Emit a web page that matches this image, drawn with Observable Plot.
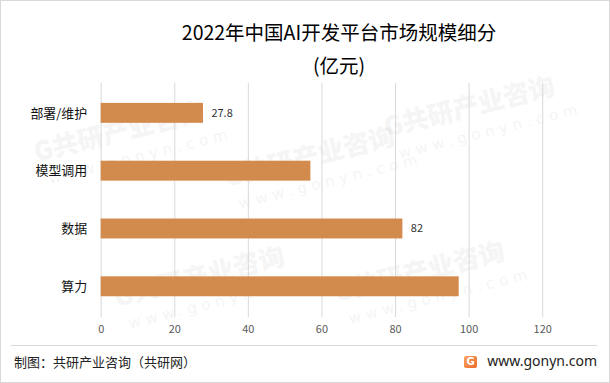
<!DOCTYPE html>
<html>
<head>
<meta charset="utf-8">
<script src="https://cdn.jsdelivr.net/npm/d3@7"></script>
<script src="https://cdn.jsdelivr.net/npm/@observablehq/plot@0.6"></script>
<style>
  html, body { margin: 0; padding: 0; background: #fff; }
  body { font-family: "Noto Sans CJK SC", "Noto Sans", sans-serif; }
  #frame { position: relative; width: 608px; height: 381px; border: 1px solid #d9d9d9; overflow: hidden; background: #fff; }
  .wm { position: absolute; color: #000; opacity: 0.035; font-weight: 900; font-size: 26px; transform: rotate(-14deg); white-space: nowrap; pointer-events: none; }
  .wm2 { position: absolute; color: #000; opacity: 0.04; font-size: 15px; letter-spacing: 5px; transform: rotate(-14deg); white-space: nowrap; pointer-events: none; font-family: "DejaVu Sans", sans-serif; }
  #title { position: absolute; left: 0; width: 676px; top: 18px; text-align: center; font-size: 19.5px; color: #000; line-height: 26px; }
  #unit { position: absolute; left: 0; width: 676px; top: 51px; text-align: center; font-size: 19.5px; color: #000; line-height: 26px; }
  #chart { position: absolute; left: 0; top: 70px; }
  #rule { position: absolute; left: 10px; width: 586px; top: 344px; height: 1px; background: #d9d9d9; }
  #source { position: absolute; left: 13px; top: 352px; font-size: 13px; color: #222; line-height: 18px; }
  #site { position: absolute; right: 12px; top: 351px; font-size: 14px; color: #222; line-height: 18px; font-family: "Noto Sans", "DejaVu Sans", sans-serif; }
  #logo { position: absolute; left: 463px; top: 355px; width: 13px; height: 12px; border-radius: 2px; background: linear-gradient(135deg, #f7a35c, #ee6a2f); color: #fff; font-size: 10px; font-weight: bold; line-height: 12px; text-align: center; font-family: "DejaVu Sans", sans-serif; }
</style>
</head>
<body>
<div id="frame">
  <div id="wms"></div>
  <div id="title">2022年中国AI开发平台市场规模细分</div>
  <div id="unit">(亿元)</div>
  <div id="chart"></div>
  <div id="rule"></div>
  <div id="source">制图：共研产业咨询（共研网）</div>
  <div id="logo">G</div>
  <div id="site">www.gonyn.com</div>
</div>
<script>
const categories = ["部署/维护", "模型调用", "数据", "算力"];
const values = [27.8, 57, 82, 97.3];
const labelShown = [true, false, true, false];
const xTicks = [0, 20, 40, 60, 80, 100, 120];

const data = categories.map((c, i) => ({category: c, value: values[i], show: labelShown[i]}));

// faint watermarks, kept fully inside the frame
const wms = document.getElementById("wms");
const spots = [[30,110],[220,135],[380,85],[110,255],[330,250]];
for (const [x, y] of spots) {
  const a = document.createElement("div");
  a.className = "wm"; a.style.left = x + "px"; a.style.top = y + "px";
  a.textContent = "G共研产业咨询";
  wms.appendChild(a);
  const b = document.createElement("div");
  b.className = "wm2"; b.style.left = (x + 15) + "px"; b.style.top = (y + 36) + "px";
  b.textContent = "www.gonyn.com";
  wms.appendChild(b);
}

const chart = Plot.plot({
  width: 610,
  height: 275,
  marginTop: 12,
  marginBottom: 28,
  marginLeft: 100,
  marginRight: 67,
  style: {background: "transparent", fontFamily: "Noto Sans CJK SC, Noto Sans, sans-serif"},
  x: {domain: [0, 120], ticks: xTicks, label: null},
  y: {domain: categories, paddingInner: 0.65, paddingOuter: 0.325, label: null},
  marks: [
    Plot.ruleX(xTicks, {stroke: "#d9d9d9", strokeWidth: 1}),
    Plot.barX(data, {y: "category", x: "value", fill: "#D38B4D"}),
    Plot.text(data.filter(d => d.show), {y: "category", x: "value", text: d => String(d.value), textAnchor: "start", dx: 8, fontSize: 11, fill: "#333"}),
    Plot.axisX({ticks: xTicks, tickSize: 0, tickPadding: 8, fontSize: 11, color: "#595959", label: null}),
    Plot.axisY({tickSize: 0, tickPadding: 14, fontSize: 13, color: "#111", label: null})
  ]
});
document.getElementById("chart").appendChild(chart);
</script>
</body>
</html>
